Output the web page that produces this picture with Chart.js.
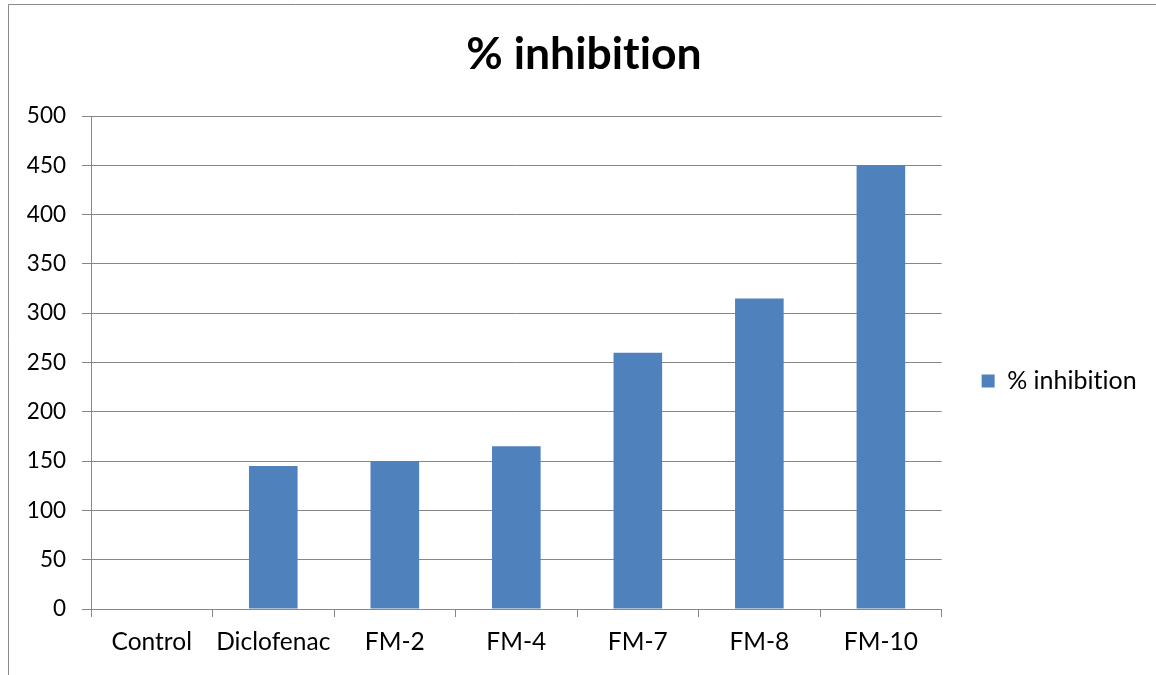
<!DOCTYPE html>
<html>
<head>
<meta charset="utf-8">
<script src="https://cdn.jsdelivr.net/npm/chart.js@4/dist/chart.umd.min.js"></script>
<style>
  html, body { margin: 0; padding: 0; background: #fff; }
  #wrap { position: relative; width: 1156px; height: 675px; }
</style>
</head>
<body>
<div id="wrap"><canvas id="c" width="1156" height="675"></canvas></div>
<script>
// Data
const categories = ['Control', 'Diclofenac', 'FM-2', 'FM-4', 'FM-7', 'FM-8', 'FM-10'];
const inhibition = [0, 145, 150, 165, 260, 315, 450];
const seriesName = '% inhibition';
const chartTitle = '% inhibition';
const yMin = 0, yMax = 500, yStep = 50;

const FONT = "Lato, 'Liberation Sans', sans-serif";
const GRID = '#878787';
const BAR = '#4F81BD';

// White background, thin grey frame, and plain (non-ligature) text shaping
const framePlugin = {
  id: 'frame',
  beforeDraw(chart) {
    const ctx = chart.ctx;
    ctx.letterSpacing = '0.01px';
    ctx.save();
    ctx.fillStyle = '#fff';
    ctx.fillRect(0, 0, chart.width, chart.height);
    ctx.strokeStyle = '#8a8a8a';
    ctx.lineWidth = 1;
    ctx.beginPath();
    ctx.moveTo(8.5, chart.height);
    ctx.lineTo(8.5, 4.5);
    ctx.lineTo(chart.width, 4.5);
    ctx.stroke();
    ctx.restore();
  }
};

new Chart(document.getElementById('c'), {
  type: 'bar',
  data: {
    labels: categories,
    datasets: [{
      label: seriesName,
      data: inhibition,
      backgroundColor: BAR,
      borderWidth: 0,
      barPercentage: 0.4,
      categoryPercentage: 1.0
    }]
  },
  options: {
    responsive: false,
    animation: false,
    layout: { padding: { left: 21, right: 9, top: 0, bottom: 0 } },
    plugins: {
      title: {
        display: true,
        text: chartTitle,
        color: '#000',
        font: { family: FONT, size: 44.5, weight: 'bold', lineHeight: 1.2 },
        padding: { top: 28.3, bottom: 34.3 }
      },
      legend: {
        display: true,
        position: 'right',
        fullSize: false,
        title: { display: true, text: ' ', font: { size: 10, lineHeight: 1.2 }, padding: { top: 0, bottom: 25 } },
        labels: {
          boxWidth: 13,
          boxHeight: 13,
          padding: 40,
          color: '#000',
          font: { family: FONT, size: 25 }
        }
      },
      tooltip: { enabled: false }
    },
    scales: {
      x: {
        afterFit(s) { s.height = 66; },
        grid: { offset: true, drawOnChartArea: false, color: GRID, tickLength: 8, tickColor: GRID },
        border: { color: GRID },
        ticks: { color: '#000', font: { family: FONT, size: 24.5 }, padding: 10, maxRotation: 0 }
      },
      y: {
        min: yMin,
        max: yMax,
        afterFit(s) { s.width = 70; },
        grid: { color: GRID, tickLength: 9, tickColor: GRID },
        border: { color: GRID },
        ticks: { stepSize: yStep, color: '#000', font: { family: FONT, size: 22.5 }, padding: 16 }
      }
    }
  },
  plugins: [framePlugin]
});
</script>
</body>
</html>
